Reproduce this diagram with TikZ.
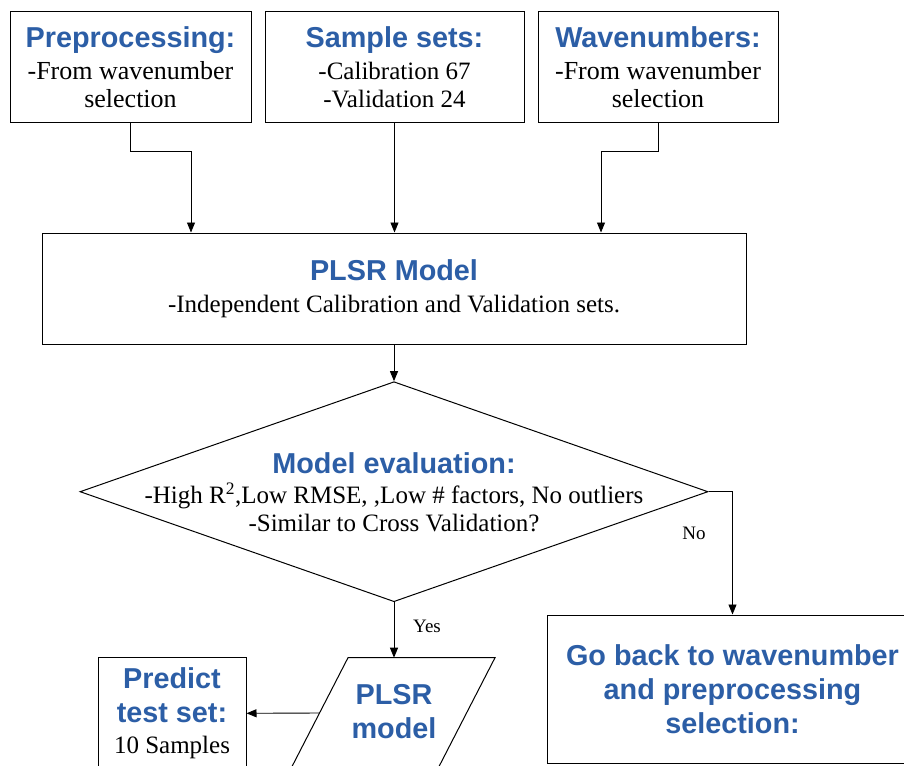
\documentclass[tikz,border=0pt]{standalone}
\usepackage{fontspec}
\setmainfont{Liberation Serif}
\newfontfamily\headfont{Liberation Sans}
\usetikzlibrary{arrows.meta,shapes.geometric}
\definecolor{headblue}{RGB}{44,94,166}
\newcommand{\hd}{\headfont\bfseries\fontsize{28.8}{34}\selectfont\color{headblue}}
\newcommand{\bd}{\normalfont\fontsize{25}{28}\selectfont\color{black}}
\newcommand{\bdl}{\normalfont\fontsize{26}{28}\selectfont\color{black}}
\tikzset{
  box/.style={draw, line width=1pt, inner sep=0pt, align=center, font=\bd},
  link/.style={draw, line width=0.9pt, -{Triangle[length=10pt,width=8pt]}},
  lbl/.style={font=\fontsize{19}{22}\selectfont, inner sep=0pt},
  txt/.style={align=center, inner sep=0pt, font=\bd}
}
\begin{document}
\begin{tikzpicture}[x=1pt,y=-1pt]
\useasboundingbox (0,0) rectangle (904,765);
\clip (0,0) rectangle (904,765);

% inputs
\node[box, font=\bdl, minimum width=241, minimum height=111] (prep) at (130.5,67.5)
  {{\hd Preprocessing:}\\[4pt] -From wavenumber\\ selection};
\node[box, minimum width=259, minimum height=111] (samples) at (394.5,67.5)
  {{\hd Sample sets:}\\[4pt] -Calibration 67\\ -Validation 24};
\node[box, font=\bdl, minimum width=240, minimum height=111] (waves) at (658,67.5)
  {{\hd Wavenumbers:}\\[4pt] -From wavenumber\\ selection};

% model
\node[box, minimum width=704, minimum height=111] (model) at (394,288.5)
  {{\hd PLSR Model}\\[4pt] -Independent Calibration and Validation sets.};

% evaluation
\node[draw, line width=1pt, diamond, inner sep=0pt, minimum width=628, minimum height=220] (eval) at (394,491.7) {};
\node[txt] (evaltext) at (394,492)
  {{\hd Model evaluation:}\\[2pt] -High R\textsuperscript{2},Low RMSE, ,Low \# factors, No outliers\\ -Similar to Cross Validation?};

% retry
\node[box, minimum width=371, minimum height=148, font=\hd] (goback) at (732.5,689)
  {Go back to wavenumber\\ and preprocessing\\ selection:};

% final model output
\coordinate (ptl) at (348,657.7);
\coordinate (ptr) at (495,657.7);
\coordinate (pbr) at (437.2,770);
\coordinate (pbl) at (290.2,770);
\draw[line width=1pt] (ptl) -- (ptr) -- (pbr) -- (pbl) -- cycle;
\coordinate (ptop) at (394,657.7);
\coordinate (pleft) at (319.6,713);
\node[txt, font=\hd] (plsrout) at (394,712) {PLSR\\ model};

% prediction
\node[box, minimum width=148, minimum height=111.3, font=\hd] (predict) at (172,713.3)
  {Predict\\ test set:\\[-3pt] {\bd 10 Samples}};

% connectors
\draw[link] (prep.south) -- ++(0,28) -| ([xshift=-203pt]model.north);
\draw[link] (samples.south) -- (samples.south |- model.north);
\draw[link] (waves.south) -- ++(0,28) -| ([xshift=207pt]model.north);
\draw[link] (model.south) -- (eval.north);
\draw[link] (eval.east) -| (goback.north);
\draw[link] (eval.south) -- (ptop);
\draw[link] (pleft) -- (predict.east);

\node[lbl] (nolbl) at (694,533) {No};
\node[lbl] (yeslbl) at (427,626) {Yes};
\end{tikzpicture}
\end{document}
